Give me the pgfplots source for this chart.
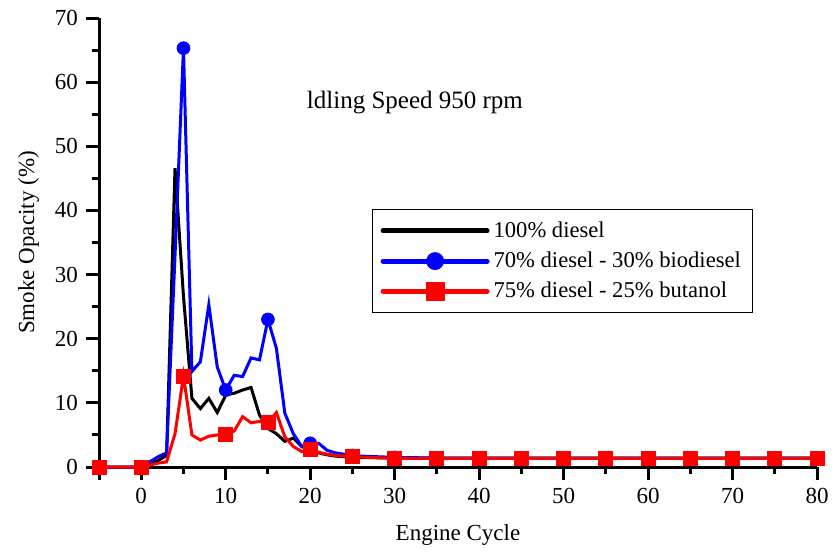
\documentclass[border=0pt]{standalone}
\usepackage{fontspec}
\setmainfont{Liberation Serif}
\usepackage{pgfplots}
\pgfplotsset{compat=1.18}
\begin{document}
\fontsize{11.5}{13.5}\selectfont
\begin{tikzpicture}
\begin{axis}[
  scale only axis, width=359pt, height=224.5pt,
  xmin=-5, xmax=80, ymin=0, ymax=70,
  clip=false,
  axis lines*=left,
  axis line style={line width=1.5pt},
  xtick={-5,0,10,20,30,40,50,60,70,80},
  xticklabels={,0,10,20,30,40,50,60,70,80},
  minor xtick={5,15,25,35,45,55,65,75},
  ytick={0,10,...,70},
  minor ytick={5,15,...,65},
  tick align=outside,
  major tick length=6.5pt, minor tick length=3.5pt,
  every tick/.style={black, line width=1.5pt},
  /pgf/number format/assume math mode=true,
  tick label style={font=\fontsize{11.5}{13.5}\selectfont},
  xlabel={Engine Cycle}, ylabel={Smoke Opacity (\%)},
  label style={font=\fontsize{11.5}{13.5}\selectfont},
  xlabel style={yshift=-2.5pt},
  legend cell align=left,
  legend image code/.code={\draw[mark repeat=2,mark phase=2,line cap=round,#1] plot coordinates {(0pt,0pt) (26pt,0pt) (52pt,0pt)};},
  legend style={at={(axis cs:49.9,32.1)}, anchor=center, draw=black, line width=0.6pt,
    font=\fontsize{11.3}{13}\selectfont, row sep=1.5pt, inner xsep=4pt, inner ysep=4pt},
]
\addlegendimage{black, line width=2.5pt}
\addlegendentry{100\% diesel}
\addlegendimage{blue, line width=2.5pt, mark=*, mark size=3.2pt, mark options={solid}}
\addlegendentry{70\% diesel - 30\% biodiesel}
\addlegendimage{red, line width=2.5pt, mark=square*, mark size=3.5pt}
\addlegendentry{75\% diesel - 25\% butanol}

% 100% diesel
\addplot[black, line width=1.5pt, no marks, forget plot] coordinates {
(-5,0) (0,0) (1,0.5) (2,1.0) (3,1.8) (4,46.6) (5,26.6) (6,10.7) (7,9.1) (8,10.7) (9,8.5)
(10,11.2) (11,11.5) (12,12.0) (13,12.4) (14,8.1) (15,6.0) (16,5.2) (17,4.0) (18,4.5) (19,3.2)
(20,2.6) (21,2.2) (22,1.9) (23,1.7) (24,1.6) (25,1.5) (30,1.4) (35,1.4) (40,1.4) (45,1.4)
(50,1.4) (55,1.4) (60,1.4) (65,1.4) (70,1.4) (75,1.4) (80,1.4)};

% 70% diesel - 30% biodiesel
\addplot[blue, line width=1.5pt, no marks, forget plot] coordinates {
(-5,0) (0,0) (1,0.8) (2,1.6) (3,2.2) (4,33) (5,65.3) (6,14.9) (7,16.4) (8,25.3) (9,15.6)
(10,12.0) (11,14.3) (12,14.1) (13,17.0) (14,16.7) (15,23.0) (16,18.5) (17,8.4) (18,5.2) (19,3.2)
(20,3.7) (21,3.7) (22,2.6) (23,2.2) (24,2.0) (25,1.8) (26,1.7) (30,1.5) (35,1.4) (40,1.4) (45,1.4)
(50,1.4) (55,1.4) (60,1.4) (65,1.4) (70,1.4) (75,1.4) (80,1.4)};
\addplot[blue, only marks, mark=*, mark size=3.2pt, forget plot] coordinates {
(5,65.3) (10,12.0) (15,23.0) (20,3.7) (25,1.8) (30,1.5) (35,1.4) (40,1.4) (45,1.4)
(50,1.4) (55,1.4) (60,1.4) (65,1.4) (70,1.4) (75,1.4) (80,1.4)};

% 75% diesel - 25% butanol
\addplot[red, line width=1.5pt, no marks, forget plot] coordinates {
(-5,0) (0,0) (1,0.3) (2,0.6) (3,0.8) (4,5.2) (5,14.2) (6,5.0) (7,4.2) (8,4.8) (9,5.0)
(10,5.15) (11,5.6) (12,7.85) (13,6.9) (14,7.1) (15,6.9) (16,8.5) (17,4.7) (18,3.2) (19,2.4)
(20,2.8) (21,2.3) (22,2.0) (23,1.8) (24,1.7) (25,1.6) (30,1.35) (35,1.35) (40,1.35) (45,1.35)
(50,1.35) (55,1.35) (60,1.35) (65,1.35) (70,1.35) (75,1.35) (80,1.35)};
\addplot[red, only marks, mark=square*, mark size=3.5pt, forget plot] coordinates {
(-5,0) (0,0) (5,14.2) (10,5.15) (15,6.9) (20,2.8) (25,1.6) (30,1.35) (35,1.35) (40,1.35) (45,1.35)
(50,1.35) (55,1.35) (60,1.35) (65,1.35) (70,1.35) (75,1.35) (80,1.35)};

\node[font=\fontsize{12.5}{14}\selectfont] at (axis cs:32.4,56.8) {ldling Speed 950 rpm};
\end{axis}
\path[use as bounding box] (-49.5pt,-39.5pt) rectangle (369.5pt,233.5pt);
\end{tikzpicture}
\end{document}
